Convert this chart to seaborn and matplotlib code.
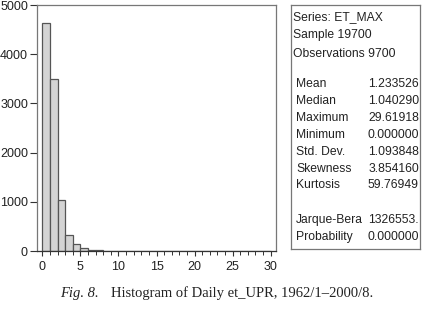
"""Histogram of daily et_UPR with summary statistics panel."""

import matplotlib

matplotlib.use("Agg")
import matplotlib.pyplot as plt
import numpy as np
import seaborn as sns

# bin edges (width 1) and counts
BIN_EDGES = list(range(0, 31))
COUNTS = [4640, 3500, 1035, 335, 145, 55, 30, 20, 10, 8,
          6, 3, 9, 2, 1, 6, 1, 1, 0, 0,
          0, 0, 0, 0, 0, 0, 0, 0, 0, 5]

STAT_HEADER = ["Series: ET_MAX", "Sample 19700", "Observations 9700"]
STAT_NAMES = ["Mean", "Median", "Maximum", "Minimum", "Std. Dev.", "Skewness", "Kurtosis"]
STAT_VALUES = ["1.233526", "1.040290", "29.61918", "0.000000", "1.093848", "3.854160", "59.76949"]
TEST_NAMES = ["Jarque-Bera", "Probability"]
TEST_VALUES = ["1326553.", "0.000000"]

CAPTION = "Histogram of Daily et_UPR, 1962/1\u20132000/8."

sns.set_theme(style="white")
plt.rcParams["font.family"] = ["Liberation Sans", "DejaVu Sans"]

fig = plt.figure(figsize=(4.28, 3.14), dpi=100)
ax = fig.add_axes([37 / 428, 1 - 251 / 314, 239 / 428, 246 / 314])

lefts = np.array(BIN_EDGES[:-1], dtype=float) + 0.5
sns.histplot(x=lefts, weights=COUNTS, bins=BIN_EDGES, ax=ax,
             color="#d4d4d4", edgecolor="#555555", linewidth=0.9, alpha=1)

ax.set_xlim(-0.7, 30.7)
ax.set_ylim(0, 5000)
ax.set_xticks(range(0, 31, 5))
ax.set_xticks(range(0, 31), minor=True)
ax.set_yticks(range(0, 5001, 1000))
ax.set_xlabel("")
ax.set_ylabel("")
ax.tick_params(axis="both", which="major", direction="out", width=0.8,
               color="#333333", labelsize=9, labelcolor="#222222",
               bottom=True, left=True)
ax.tick_params(axis="y", which="major", length=5, pad=1.5)
ax.tick_params(axis="x", which="major", length=3.5, pad=4)
ax.tick_params(axis="x", which="minor", direction="out", length=3, width=0.7,
               color="#333333", bottom=True)
for side, sp in ax.spines.items():
    sp.set_color("#777777")
    sp.set_linewidth(0.9)
ax.spines["bottom"].set_color("#333333")

# statistics box
box = fig.add_axes([291 / 428, 1 - 249 / 314, 129 / 428, 244 / 314])
box.set_xticks([])
box.set_yticks([])
for sp in box.spines.values():
    sp.set_color("#777777")
    sp.set_linewidth(0.9)

def fy(py):
    return 1 - py / 314

FS = 8.7
for i, txt in enumerate(STAT_HEADER):
    fig.text(293 / 428, fy(17 + 18.3 * i), txt, fontsize=FS, va="center", color="#222222")
for i, (n, v) in enumerate(zip(STAT_NAMES, STAT_VALUES)):
    y = fy(84 + 16.9 * i)
    fig.text(296 / 428, y, n, fontsize=FS, va="center", color="#222222")
    fig.text(419 / 428, y, v, fontsize=FS, va="center", ha="right", color="#222222")
for i, (n, v) in enumerate(zip(TEST_NAMES, TEST_VALUES)):
    y = fy(220 + 17.3 * i)
    fig.text(296 / 428, y, n, fontsize=FS, va="center", color="#222222")
    fig.text(419 / 428, y, v, fontsize=FS, va="center", ha="right", color="#222222")

# caption
serif = ["Liberation Serif", "DejaVu Serif"]
fig.text(60 / 428, fy(293), "Fig. 8.", fontsize=10.5, style="italic", ha="left",
         va="center", family=serif, color="#222222")
fig.text(111 / 428, fy(293), CAPTION, fontsize=10.5, ha="left", va="center",
         family=serif, color="#222222")

fig.savefig("out.png", dpi=100)
